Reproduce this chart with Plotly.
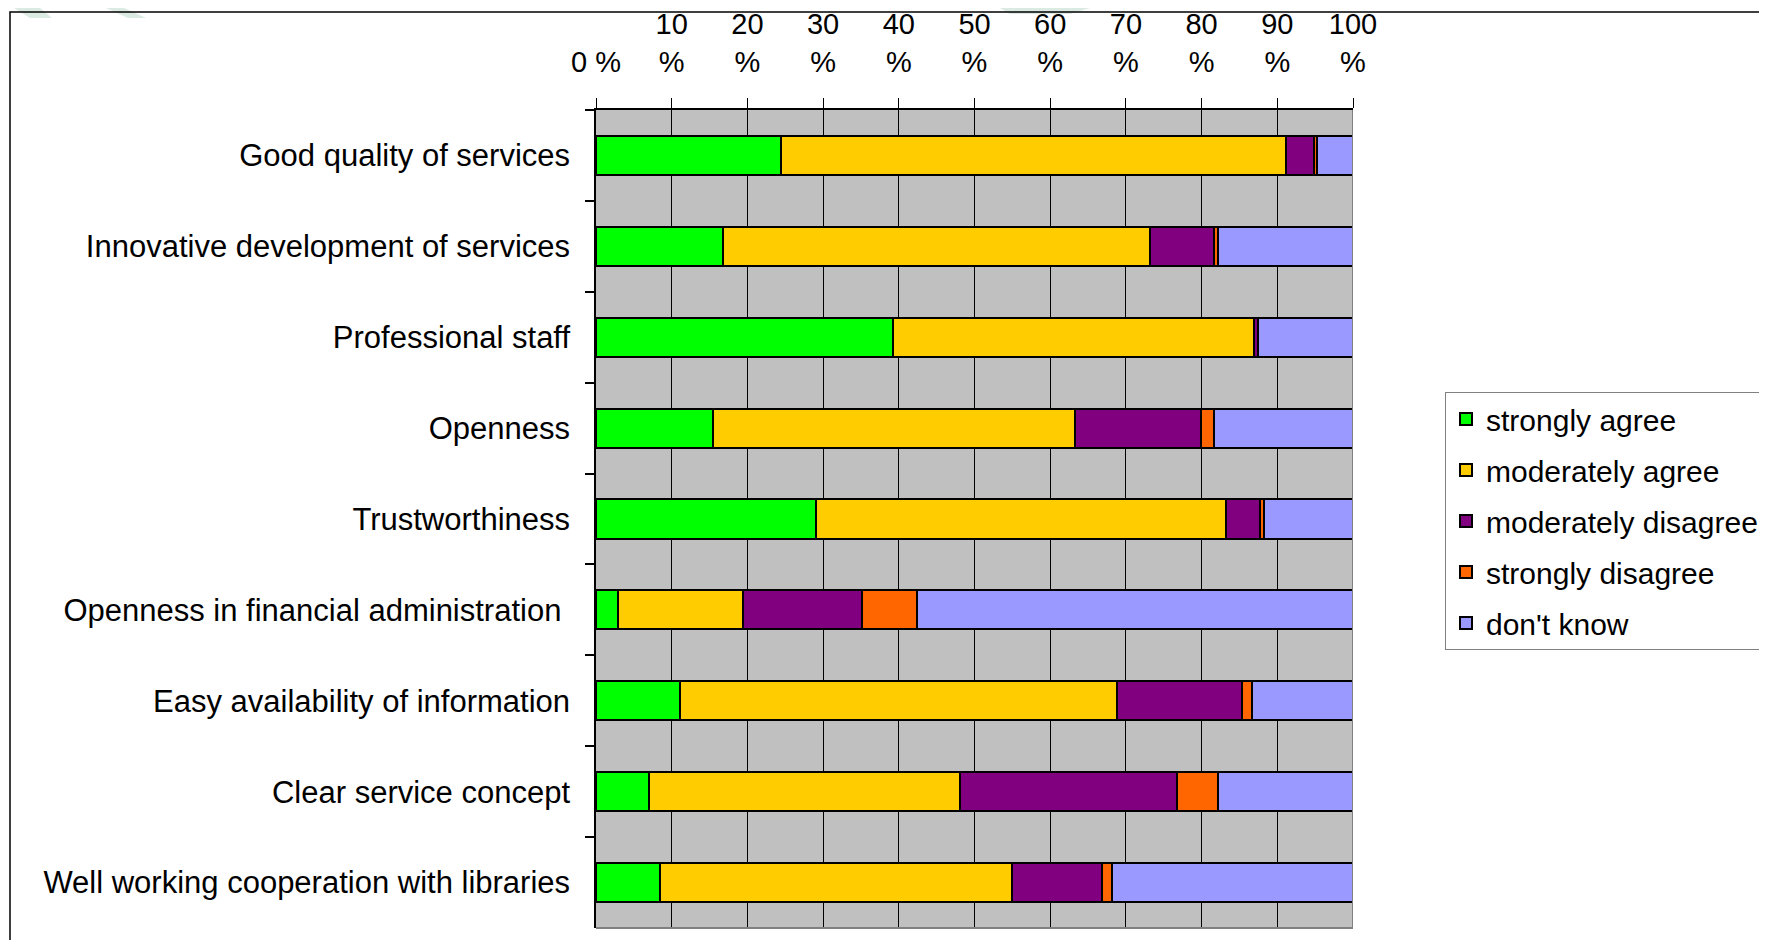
import plotly.graph_objects as go

categories = [
    "Good quality of services",
    "Innovative development of services",
    "Professional staff",
    "Openness",
    "Trustworthiness",
    "Openness in financial administration ",
    "Easy availability of information",
    "Clear service concept",
    "Well working cooperation with libraries",
]
strongly_agree = [24.5, 16.8, 39.2, 15.4, 29.0, 2.9, 11.1, 7.0, 8.4]
moderately_agree = [66.6, 56.4, 47.7, 47.9, 54.2, 16.5, 57.7, 41.1, 46.5]
moderately_disagree = [3.8, 8.4, 0.6, 16.6, 4.5, 15.7, 16.6, 28.7, 12.0]
strongly_disagree = [0.3, 0.5, 0.0, 1.7, 0.5, 7.3, 1.2, 5.3, 1.2]
dont_know = [4.8, 17.9, 12.5, 18.4, 11.8, 57.6, 13.4, 17.9, 31.9]

series_names = ["strongly agree", "moderately agree", "moderately disagree",
                "strongly disagree", "don't know"]
series_values = [strongly_agree, moderately_agree, moderately_disagree,
                 strongly_disagree, dont_know]
colors = ["#00FF00", "#FFCC00", "#800080", "#FF6600", "#9999FF"]

tick_vals = [0, 10, 20, 30, 40, 50, 60, 70, 80, 90, 100]
tick_text = ["0 %"] + [f"{v}<br>%" for v in tick_vals[1:]]

FONT = "Liberation Sans, Arial, sans-serif"

fig = go.Figure()
for name, vals, col in zip(series_names, series_values, colors):
    fig.add_trace(go.Bar(
        y=categories, x=vals, name=name, orientation="h",
        marker=dict(color=col, line=dict(color="black", width=2)),
        legendgroup=name,
    ))

# page offset of the figure (body margin)
OFF = 8
# plot area in page pixels: x 596..1353, y 110..928
L, R, T, B = 596 - OFF, 1353 - OFF, 110 - OFF, 928 - OFF
W, H = 1767 - 2 * OFF, 948 - 2 * OFF


def px(x):
    return (x - OFF - L) / (R - L)


def py(y):
    return 1 - (y - OFF - T) / (B - T)


def para(x0, x1, x2, x3, y0, y1):
    return (f"M {px(x0)},{py(y0)} L {px(x1)},{py(y0)} "
            f"L {px(x2)},{py(y1)} L {px(x3)},{py(y1)} Z")


WM = "#dbeae2"
shapes = [
    # faint watermark strokes
    dict(type="path", xref="paper", yref="paper", layer="below",
         path=para(14, 40, 52, 30, 8, 18), fillcolor=WM, line=dict(width=0)),
    dict(type="path", xref="paper", yref="paper", layer="below",
         path=para(106, 124, 146, 128, 8, 18), fillcolor=WM, line=dict(width=0)),
    dict(type="path", xref="paper", yref="paper", layer="below",
         path=para(1000, 1090, 1070, 1010, 8, 14), fillcolor=WM, line=dict(width=0)),
    # outer frame
    dict(type="rect", xref="paper", yref="paper", x0=px(10), x1=px(1800), y0=py(12), y1=py(990),
         line=dict(color="black", width=1.5), layer="below"),
    # right and bottom gray plot border
    dict(type="line", xref="x", yref="paper", x0=100, x1=100, y0=0, y1=1,
         line=dict(color="#808080", width=2)),
    dict(type="line", xref="paper", yref="paper", x0=0, x1=1, y0=0, y1=0,
         line=dict(color="#808080", width=2)),
]

fig.update_layout(
    width=W, height=H,
    margin=dict(l=L, r=W - R, t=T, b=H - B, autoexpand=False),
    barmode="stack", bargap=0.57,
    plot_bgcolor="#C0C0C0", paper_bgcolor="white",
    font=dict(family=FONT, size=29, color="black"),
    showlegend=True,
    legend=dict(
        x=px(1445), y=py(392), xanchor="left", yanchor="top",
        bordercolor="#808080", borderwidth=1, bgcolor="white",
        traceorder="grouped", tracegroupgap=9,
        font=dict(family=FONT, size=30, color="black"),
    ),
    xaxis=dict(
        side="top", range=[0, 100], tickvals=tick_vals, ticktext=tick_text,
        showgrid=True, gridcolor="black", gridwidth=1,
        showline=True, linecolor="black", linewidth=1.5,
        ticks="outside", ticklen=10, tickcolor="black", tickwidth=1,
        ticklabelstandoff=15, zeroline=False, fixedrange=True,
        tickfont=dict(family=FONT, size=29, color="black"),
    ),
    yaxis=dict(
        categoryorder="array", categoryarray=categories, autorange="reversed",
        tickson="boundaries", ticks="outside", ticklen=9, tickcolor="black", tickwidth=1.5,
        showgrid=False, showline=True, linecolor="black", linewidth=1.5,
        ticklabelstandoff=18,
        tickfont=dict(family=FONT, size=31, color="black"),
    ),
    shapes=shapes,
)

fig.write_html("out.html")
